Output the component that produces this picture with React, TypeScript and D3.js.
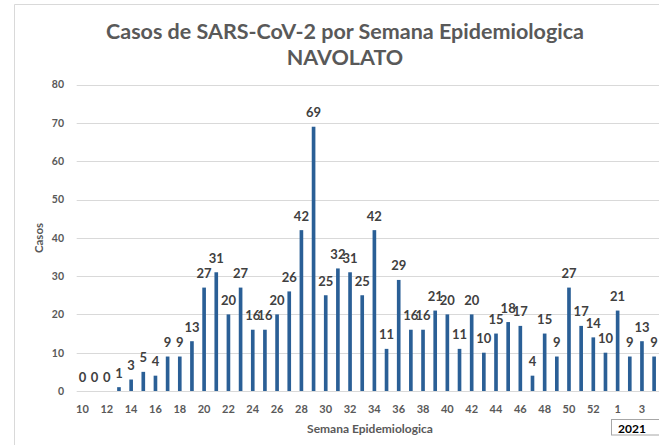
import React from "react";
import * as d3 from "d3";

const weeks: string[] = [
  "10","11","12","13","14","15","16","17","18","19",
  "20","21","22","23","24","25","26","27","28","29",
  "30","31","32","33","34","35","36","37","38","39",
  "40","41","42","43","44","45","46","47","48","49",
  "50","51","52","53","1","2","3","4",
];
const cases: number[] = [
  0,0,0,1,3,5,4,9,9,13,
  27,31,20,27,16,16,20,26,42,69,
  25,32,31,25,42,11,29,16,16,21,
  20,11,20,10,15,18,17,4,15,9,
  27,17,14,10,21,9,13,9,
];
const yTicks: number[] = [0,10,20,30,40,50,60,70,80];
const titleLines: string[] = ["Casos de SARS-CoV-2 por Semana Epidemiologica", "NAVOLATO"];
const xTitle = "Semana Epidemiologica";
const yTitle = "Casos";
const yearLabel = "2021";

const W = 659, H = 445;
const FONT = "Lato, 'Open Sans', sans-serif";

export default function App() {
  const keys = weeks.map((w, i) => i + ":" + w);
  const x = d3.scaleBand<string>()
    .domain(keys)
    .range([76.4, 660.2])
    .paddingInner(0.7)
    .paddingOuter(0.35);
  const y = d3.scaleLinear().domain([0, 80]).range([391, 84.6]);
  const bw = x.bandwidth();

  return (
    <svg width={W} height={H} style={{ position: "absolute", left: 0, top: 0, background: "#fff" }} fontFamily={FONT}>
      <rect x={0} y={0} width={W} height={H} fill="#fff" />
      {/* chart border */}
      <line x1={14.5} y1={4.5} x2={W} y2={4.5} stroke="#d9d9d9" />
      <line x1={14.5} y1={4.5} x2={14.5} y2={H} stroke="#d9d9d9" />
      {/* title */}
      {titleLines.map((t, i) => (
        <text key={t} x={345} y={38.5 + i * 26.5} textAnchor="middle" fontSize={21.5} fontWeight="bold" fill="#595959">{t}</text>
      ))}
      {/* gridlines */}
      {yTicks.map(t => (
        <line key={"g" + t} x1={76.7} x2={W} y1={Math.round(y(t)) + 0.5} y2={Math.round(y(t)) + 0.5} stroke="#d9d9d9" strokeWidth={1} />
      ))}
      {/* y tick labels */}
      {yTicks.map(t => (
        <text key={"yt" + t} x={64} y={y(t) + 3.8} textAnchor="end" fontSize={10.5} fontWeight="bold" fill="#595959">{t}</text>
      ))}
      {/* bars */}
      {cases.map((v, i) => (
        <rect key={"b" + i} x={x(keys[i])!} y={y(v)} width={bw} height={y(0) - y(v)} fill="#2A5F96" />
      ))}
      {/* data labels */}
      {cases.map((v, i) => (
        <text key={"l" + i} x={x(keys[i])! + bw / 2} y={y(v) - 9.5} textAnchor="middle" fontSize={13} fontWeight="bold" fill="#404040">{v}</text>
      ))}
      {/* x tick labels */}
      {weeks.map((w, i) => i % 2 === 0 ? (
        <text key={"xt" + i} x={x(keys[i])! + bw / 2} y={413} textAnchor="middle" fontSize={11} fontWeight="bold" fill="#595959">{w}</text>
      ) : null)}
      {/* axis titles */}
      <text x={370} y={433} textAnchor="middle" fontSize={12} fontWeight="bold" fill="#595959">{xTitle}</text>
      <text transform={`translate(43,238) rotate(-90)`} textAnchor="middle" fontSize={11.5} fontWeight="bold" fill="#595959">{yTitle}</text>
      {/* year box */}
      <rect x={611.5} y={419.5} width={60} height={15.5} fill="#fff" stroke="#a6a6a6" strokeWidth={1} />
      <text x={632} y={432.5} textAnchor="middle" fontSize={12} fontWeight="bold" fill="#000">{yearLabel}</text>
    </svg>
  );
}
